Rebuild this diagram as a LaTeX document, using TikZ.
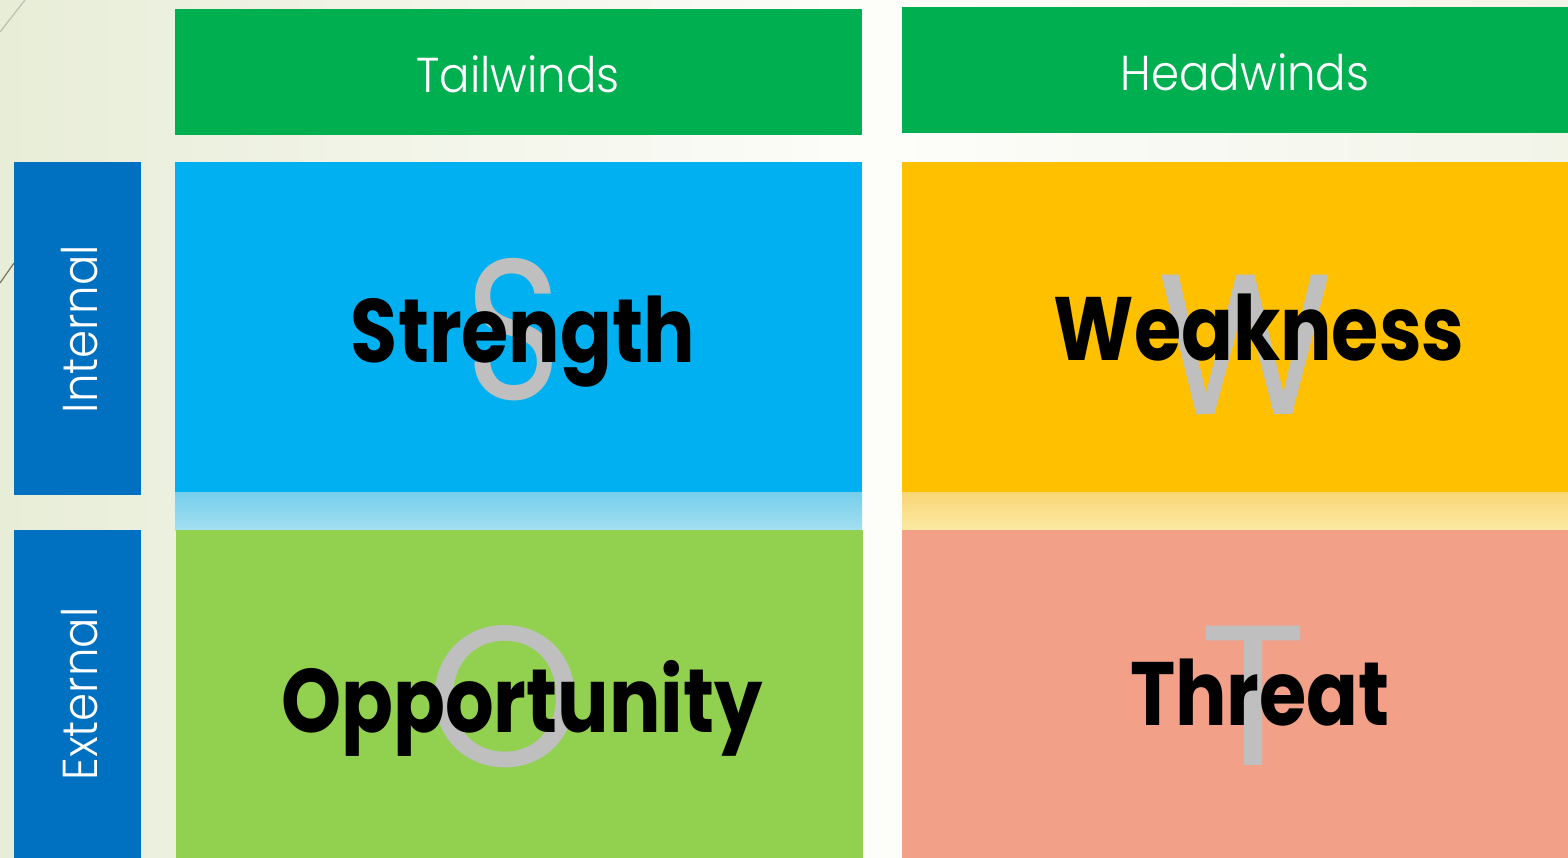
\documentclass[tikz,border=0pt]{standalone}
\usepackage{fontspec}
\IfFontExistsTF{Poppins Light}{\newfontfamily\lightf{Poppins Light}}{\newfontfamily\lightf{Poppins}}
\newfontfamily\popf{Poppins}
\definecolor{bgL}{RGB}{232,237,216}
\definecolor{bgM}{RGB}{253,253,250}
\definecolor{bgR}{RGB}{242,244,232}
\definecolor{hdrgreen}{HTML}{00AF50}
\definecolor{sideblue}{HTML}{0070C0}
\definecolor{sblue}{HTML}{00B0F0}
\definecolor{wyellow}{HTML}{FFC000}
\definecolor{ogreen}{HTML}{92D050}
\definecolor{tsalmon}{HTML}{F2A088}
\definecolor{biggrey}{HTML}{BFBFBF}
\definecolor{bandBlueT}{RGB}{118,207,236}
\definecolor{bandBlueB}{RGB}{162,223,241}
\definecolor{bandYelT}{RGB}{250,214,118}
\definecolor{bandYelB}{RGB}{251,233,162}
\newcommand{\narrowword}[1]{\scalebox{0.85}[1]{#1}}
\newcommand{\narrowhdr}[1]{\scalebox{0.92}[1]{#1}}
\tikzset{
  cell/.style={draw=none, inner sep=0pt, outer sep=0pt, anchor=north west},
  hdrtext/.style={text=white, inner sep=0pt, font=\lightf\fontsize{49}{58}\selectfont},
  bigword/.style={text=black, inner sep=0pt, anchor=base, font=\popf\bfseries\fontsize{90}{100}\selectfont},
  ghost/.style={text=biggrey, inner sep=0pt, font=\popf\fontsize{200}{220}\selectfont},
}
\begin{document}
\begin{tikzpicture}[x=1pt,y=-1pt]
\useasboundingbox (0,0) rectangle (1568,857);
% background
\fill[left color=bgL, right color=bgM] (0,0) rectangle (882,857);
\fill[left color=bgM, right color=bgR] (882,0) rectangle (1568,857);
\draw[color={rgb,255:red,190;green,190;blue,175}, line width=1.2pt] (0,32) -- (25,0);
\draw[color={rgb,255:red,125;green,115;blue,95}, line width=1.2pt] (0,283) -- (14,263);
% header cells
\node[cell, fill=hdrgreen, minimum width=687pt, minimum height=126pt] (tail) at (175,9) {};
\node[cell, fill=hdrgreen, minimum width=666pt, minimum height=126pt] (head) at (902,7) {};
\node[hdrtext, anchor=base] (tailtxt) at (518,92) {\narrowhdr{Tailwinds}};
\node[hdrtext, anchor=base] (headtxt) at (1245,90) {\narrowhdr{Headwinds}};
% side cells
\node[cell, fill=sideblue, minimum width=127pt, minimum height=333pt] (int) at (14,162) {};
\node[cell, fill=sideblue, minimum width=127pt, minimum height=330pt] (ext) at (14,530) {};
\node[hdrtext, rotate=90, anchor=base] (inttxt) at (97,329) {\narrowhdr{Internal}};
\node[hdrtext, rotate=90, anchor=base] (exttxt) at (97,694) {\narrowhdr{External}};
% quadrants
\node[cell, fill=sblue, minimum width=687pt, minimum height=330pt] (str) at (175,162) {};
\node[cell, fill=wyellow, minimum width=666pt, minimum height=330pt] (weak) at (902,162) {};
\fill[top color=bandBlueT, bottom color=bandBlueB] (175,492) rectangle (862,530);
\fill[top color=bandYelT, bottom color=bandYelB] (902,492) rectangle (1568,530);
\node[cell, fill=ogreen, minimum width=687pt, minimum height=330pt] (opp) at (176,530) {};
\node[cell, fill=tsalmon, minimum width=666pt, minimum height=330pt] (thr) at (902,530) {};
% ghost letters
\node[ghost] (gS) at (514,330) {\scalebox{0.82}[1]{S}};
\node[ghost] (gW) at (1245,345) {\scalebox{0.9}[1]{W}};
\node[ghost] (gO) at (505,697) {O};
\node[ghost] (gT) at (1254,696) {T};
% words
\node[bigword] (wS) at (523,362) {\narrowword{Strength}};
\node[bigword] (wW) at (1259,360) {\narrowword{Weakness}};
\node[bigword] (wO) at (522,732) {\narrowword{Opportunity}};
\node[bigword] (wT) at (1260,725) {\narrowword{Threat}};
\end{tikzpicture}
\end{document}
